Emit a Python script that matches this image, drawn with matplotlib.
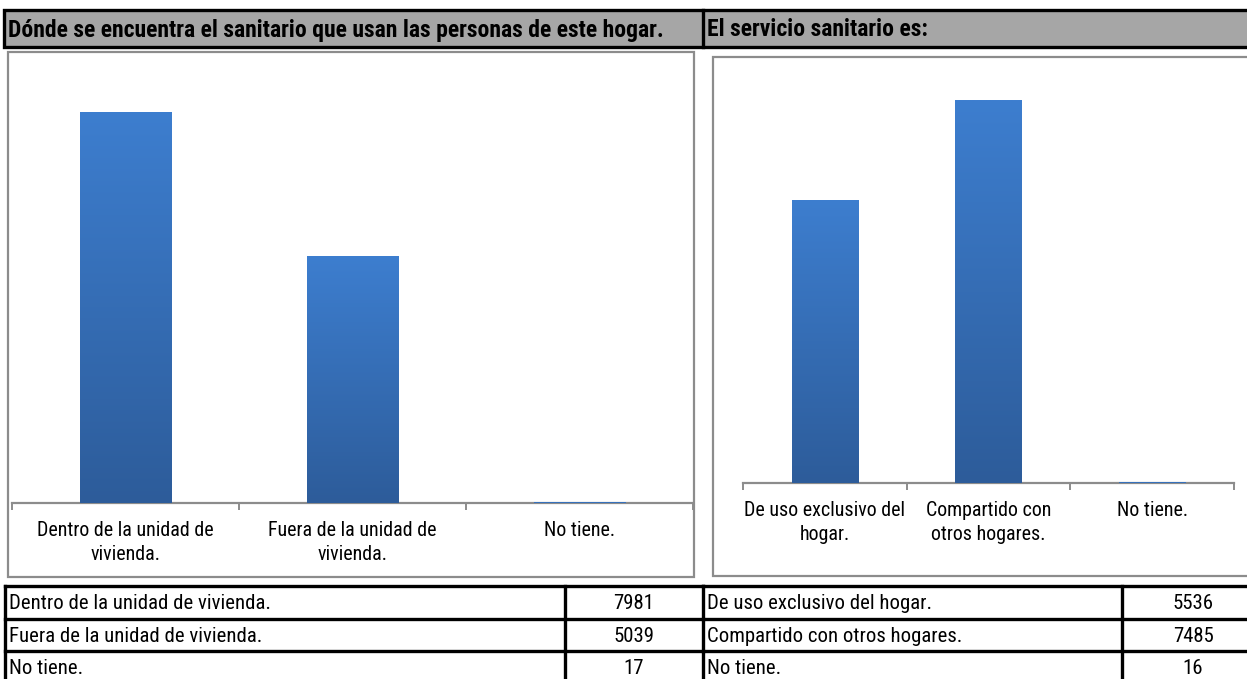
import numpy as np
import matplotlib
matplotlib.use("Agg")
import matplotlib.pyplot as plt
from matplotlib.patches import Rectangle

# data
titulo_1 = "Dónde se encuentra el sanitario que usan las personas de este hogar."
titulo_2 = "El servicio sanitario es:"

cats_1 = ["Dentro de la unidad de vivienda.", "Fuera de la unidad de vivienda.", "No tiene."]
labels_1 = ["Dentro de la unidad de\nvivienda.", "Fuera de la unidad de\nvivienda.", "No tiene."]
vals_1 = [7981, 5039, 17]

cats_2 = ["De uso exclusivo del hogar.", "Compartido con otros hogares.", "No tiene."]
labels_2 = ["De uso exclusivo del\nhogar.", "Compartido con\notros hogares.", "No tiene."]
vals_2 = [5536, 7485, 16]

W, H = 1247, 679
plt.rcParams["font.family"] = ["Roboto Condensed", "DejaVu Sans"]

fig = plt.figure(figsize=(W / 100, H / 100), dpi=100)
renderer = fig.canvas.get_renderer()


def fit_size(s, target_px, weight="normal"):
    # font size (pt) that makes string s about target_px wide
    t = fig.text(0, 0, s, fontsize=10, fontweight=weight)
    w = t.get_window_extent(renderer).width
    t.remove()
    return 10 * target_px / w


FS_HEAD = fit_size(titulo_1, 657, "bold")
FS_LAB = fit_size("Dentro de la unidad de", 176)
FS_TAB = fit_size(cats_1[0], 259)


def px_axes(x0, y0, x1, y1, **kw):
    return fig.add_axes([x0 / W, 1 - y1 / H, (x1 - x0) / W, (y1 - y0) / H], **kw)


# overlay in pixel coords for headers, boxes and tables
bg = px_axes(0, 0, W, H)
bg.set_xlim(0, W)
bg.set_ylim(H, 0)
bg.axis("off")

# header band
bg.add_patch(Rectangle((4, 10), W + 10, 37, facecolor="#a6a6a6", edgecolor="black", lw=2.4))
bg.plot([703, 703], [10, 47], color="black", lw=2.4)
bg.text(8, 30, titulo_1, fontsize=FS_HEAD, fontweight="bold", va="center", ha="left")
bg.text(707, 30, titulo_2, fontsize=FS_HEAD, fontweight="bold", va="center", ha="left")

# chart boxes
bg.add_patch(Rectangle((8, 52), 686, 525, facecolor="white", edgecolor="#8c8c8c", lw=1.6))
bg.add_patch(Rectangle((713, 57), 545, 519, facecolor="white", edgecolor="#8c8c8c", lw=1.6))

# tables
row_y = [586, 619, 651, 684]
for x0, x1, xdiv, cats, vals, xval in [(5, 703, 565, cats_1, vals_1, 634),
                                       (703, W + 20, 1122, cats_2, vals_2, 1193)]:
    for y in row_y:
        bg.plot([x0, x1], [y, y], color="black", lw=2.4, solid_capstyle="projecting")
    for xv in (x0, xdiv):
        bg.plot([xv, xv], [row_y[0], row_y[-1]], color="black", lw=2.4)
    for i, (c, v) in enumerate(zip(cats, vals)):
        yc = (row_y[i] + row_y[i + 1]) / 2 + 1
        bg.text(x0 + 4, yc, c, fontsize=FS_TAB, va="center", ha="left")
        bg.text(xval, yc, str(v), fontsize=FS_TAB, va="center", ha="center")


def bar_chart(ax, labels, vals, ymax):
    x = np.arange(len(vals))
    bars = ax.bar(x, vals, width=0.405, color="#3570b8", zorder=2)
    grad = np.linspace(0, 1, 256).reshape(-1, 1)
    cmap = matplotlib.colors.LinearSegmentedColormap.from_list("g", ["#2d5c9a", "#3d7ecf"])
    for b in bars:
        bx, by = b.get_x(), b.get_y()
        im = ax.imshow(grad, extent=[bx, bx + b.get_width(), by, by + b.get_height()],
                       origin="lower", cmap=cmap, aspect="auto", zorder=3)
        im.set_clip_path(b)
    ax.set_xlim(-0.5, len(vals) - 0.5)
    ax.set_ylim(0, ymax)
    for s in ["top", "left", "right"]:
        ax.spines[s].set_visible(False)
    ax.spines["bottom"].set_color("#8c8c8c")
    ax.spines["bottom"].set_linewidth(1.6)
    ax.set_yticks([])
    ax.set_xticks(x)
    ax.set_xticklabels(labels, fontsize=FS_LAB, linespacing=1.32)
    ax.tick_params(axis="x", which="major", length=0, pad=13)
    ax.set_xticks(np.arange(len(vals) + 1) - 0.5, minor=True)
    ax.tick_params(axis="x", which="minor", length=5, width=1.4, color="#8c8c8c", direction="out")
    ax.patch.set_alpha(0)


ax1 = px_axes(12, 62, 693, 503)
bar_chart(ax1, labels_1, vals_1, 9000)

ax2 = px_axes(743, 74, 1234, 483)
bar_chart(ax2, labels_2, vals_2, 8000)

fig.savefig("out.png", dpi=100)
